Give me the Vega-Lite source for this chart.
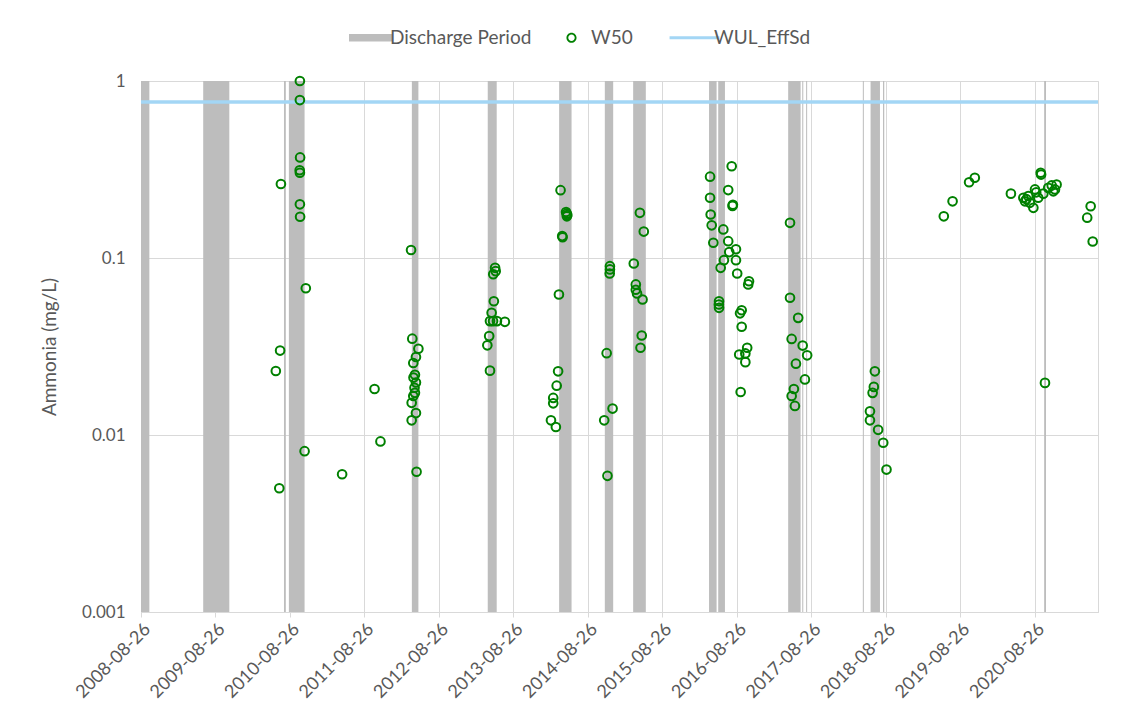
{
  "$schema": "https://vega.github.io/schema/vega-lite/v6.json",
  "width": 957,
  "height": 531,
  "autosize": "none",
  "padding": {"left": 141, "top": 81, "right": 35, "bottom": 107},
  "background": "white",
  "config": {
    "font": "Lato",
    "view": {"stroke": "#d9d9d9"},
    "axis": {
      "labelColor": "#595959",
      "titleColor": "#595959",
      "gridColor": "#d9d9d9",
      "domainColor": "#d9d9d9",
      "tickColor": "#d9d9d9",
      "labelFontSize": 17,
      "titleFontSize": 19,
      "titleFontWeight": "normal",
      "labelFont": "Lato",
      "titleFont": "Lato"
    }
  },
  "datasets": {
    "bands": [
      {"start": "2008-08-26", "end": "2008-10-06"},
      {"start": "2009-06-27", "end": "2009-11-02"},
      {"start": "2010-07-28", "end": "2010-08-06"},
      {"start": "2010-08-21", "end": "2010-11-06"},
      {"start": "2012-04-15", "end": "2012-05-17"},
      {"start": "2013-04-22", "end": "2013-06-05"},
      {"start": "2014-04-07", "end": "2014-06-07"},
      {"start": "2014-11-17", "end": "2014-12-28"},
      {"start": "2015-04-05", "end": "2015-06-06"},
      {"start": "2016-04-11", "end": "2016-05-18"},
      {"start": "2016-05-26", "end": "2016-06-28"},
      {"start": "2017-05-04", "end": "2017-07-04"},
      {"start": "2017-07-12", "end": "2017-07-17"},
      {"start": "2017-07-31", "end": "2017-08-05"},
      {"start": "2018-05-05", "end": "2018-05-10"},
      {"start": "2018-06-12", "end": "2018-07-28"},
      {"start": "2018-08-12", "end": "2018-08-18"},
      {"start": "2020-10-10", "end": "2020-10-19"}
    ],
    "limit": [{"value": 0.76}],
    "w50": [
      {"date": "2010-06-18", "value": 0.023},
      {"date": "2010-07-05", "value": 0.005},
      {"date": "2010-07-09", "value": 0.030},
      {"date": "2010-07-13", "value": 0.262},
      {"date": "2010-10-14", "value": 1.0},
      {"date": "2010-10-14", "value": 0.78},
      {"date": "2010-10-15", "value": 0.37},
      {"date": "2010-10-13", "value": 0.313},
      {"date": "2010-10-14", "value": 0.303},
      {"date": "2010-10-14", "value": 0.201},
      {"date": "2010-10-15", "value": 0.171},
      {"date": "2010-11-06", "value": 0.0081},
      {"date": "2010-11-12", "value": 0.0675},
      {"date": "2011-05-09", "value": 0.0060},
      {"date": "2011-10-15", "value": 0.0182},
      {"date": "2011-11-13", "value": 0.0092},
      {"date": "2012-04-11", "value": 0.111},
      {"date": "2012-04-17", "value": 0.035},
      {"date": "2012-05-17", "value": 0.0307},
      {"date": "2012-05-05", "value": 0.0276},
      {"date": "2012-04-22", "value": 0.0255},
      {"date": "2012-04-30", "value": 0.0219},
      {"date": "2012-04-23", "value": 0.0211},
      {"date": "2012-05-05", "value": 0.0198},
      {"date": "2012-04-28", "value": 0.0185},
      {"date": "2012-04-30", "value": 0.0173},
      {"date": "2012-04-22", "value": 0.0166},
      {"date": "2012-04-14", "value": 0.0152},
      {"date": "2012-05-05", "value": 0.0133},
      {"date": "2012-04-14", "value": 0.0121},
      {"date": "2012-05-08", "value": 0.0062},
      {"date": "2013-05-28", "value": 0.088},
      {"date": "2013-05-31", "value": 0.0843},
      {"date": "2013-05-19", "value": 0.0809},
      {"date": "2013-05-22", "value": 0.057},
      {"date": "2013-05-11", "value": 0.049},
      {"date": "2013-05-03", "value": 0.044},
      {"date": "2013-05-18", "value": 0.044},
      {"date": "2013-06-06", "value": 0.044},
      {"date": "2013-07-15", "value": 0.0436},
      {"date": "2013-04-29", "value": 0.0362},
      {"date": "2013-04-20", "value": 0.0321},
      {"date": "2013-05-03", "value": 0.0231},
      {"date": "2014-04-14", "value": 0.2416},
      {"date": "2014-05-11", "value": 0.182},
      {"date": "2014-05-14", "value": 0.178},
      {"date": "2014-05-17", "value": 0.175},
      {"date": "2014-05-15", "value": 0.172},
      {"date": "2014-04-24", "value": 0.131},
      {"date": "2014-04-22", "value": 0.133},
      {"date": "2014-04-06", "value": 0.0622},
      {"date": "2014-04-02", "value": 0.0229},
      {"date": "2014-03-26", "value": 0.019},
      {"date": "2014-03-09", "value": 0.0162},
      {"date": "2014-03-09", "value": 0.0151},
      {"date": "2014-02-26", "value": 0.0121},
      {"date": "2014-03-22", "value": 0.0111},
      {"date": "2014-12-12", "value": 0.0899},
      {"date": "2014-12-12", "value": 0.0862},
      {"date": "2014-12-11", "value": 0.0817},
      {"date": "2014-11-26", "value": 0.029},
      {"date": "2014-12-25", "value": 0.0141},
      {"date": "2014-11-14", "value": 0.0121},
      {"date": "2014-11-30", "value": 0.00588},
      {"date": "2015-04-08", "value": 0.0931},
      {"date": "2015-05-08", "value": 0.180},
      {"date": "2015-05-27", "value": 0.141},
      {"date": "2015-04-18", "value": 0.0709},
      {"date": "2015-04-18", "value": 0.0662},
      {"date": "2015-04-24", "value": 0.0631},
      {"date": "2015-05-21", "value": 0.0583},
      {"date": "2015-05-17", "value": 0.0365},
      {"date": "2015-05-11", "value": 0.0311},
      {"date": "2016-07-31", "value": 0.330},
      {"date": "2016-04-16", "value": 0.288},
      {"date": "2016-07-14", "value": 0.242},
      {"date": "2016-08-06", "value": 0.200},
      {"date": "2016-08-04", "value": 0.197},
      {"date": "2016-04-16", "value": 0.219},
      {"date": "2016-04-19", "value": 0.176},
      {"date": "2016-04-24", "value": 0.153},
      {"date": "2016-06-20", "value": 0.145},
      {"date": "2016-05-02", "value": 0.122},
      {"date": "2016-07-14", "value": 0.1245},
      {"date": "2016-08-21", "value": 0.112},
      {"date": "2016-07-19", "value": 0.108},
      {"date": "2016-06-23", "value": 0.0972},
      {"date": "2016-08-21", "value": 0.0972},
      {"date": "2016-06-07", "value": 0.088},
      {"date": "2016-08-27", "value": 0.0817},
      {"date": "2016-10-24", "value": 0.0739},
      {"date": "2016-10-20", "value": 0.0709},
      {"date": "2016-05-30", "value": 0.057},
      {"date": "2016-05-29", "value": 0.0546},
      {"date": "2016-05-30", "value": 0.0523},
      {"date": "2016-09-18", "value": 0.0507},
      {"date": "2016-09-10", "value": 0.0487},
      {"date": "2016-09-18", "value": 0.0409},
      {"date": "2016-10-15", "value": 0.0311},
      {"date": "2016-09-06", "value": 0.0285},
      {"date": "2016-10-06", "value": 0.0289},
      {"date": "2016-10-06", "value": 0.0258},
      {"date": "2016-09-13", "value": 0.0175},
      {"date": "2017-05-13", "value": 0.158},
      {"date": "2017-05-13", "value": 0.0596},
      {"date": "2017-06-22", "value": 0.0459},
      {"date": "2017-05-21", "value": 0.0349},
      {"date": "2017-07-14", "value": 0.032},
      {"date": "2017-08-05", "value": 0.0282},
      {"date": "2017-06-11", "value": 0.0253},
      {"date": "2017-07-25", "value": 0.0206},
      {"date": "2017-06-01", "value": 0.0182},
      {"date": "2017-05-21", "value": 0.0166},
      {"date": "2017-06-06", "value": 0.0146},
      {"date": "2018-07-03", "value": 0.0229},
      {"date": "2018-06-28", "value": 0.0187},
      {"date": "2018-06-22", "value": 0.0173},
      {"date": "2018-06-09", "value": 0.0136},
      {"date": "2018-06-09", "value": 0.0121},
      {"date": "2018-07-19", "value": 0.0107},
      {"date": "2018-08-13", "value": 0.00904},
      {"date": "2018-08-29", "value": 0.00638},
      {"date": "2019-06-06", "value": 0.172},
      {"date": "2019-07-19", "value": 0.209},
      {"date": "2019-10-08", "value": 0.268},
      {"date": "2019-11-05", "value": 0.284},
      {"date": "2020-04-30", "value": 0.231},
      {"date": "2020-06-30", "value": 0.219},
      {"date": "2020-07-08", "value": 0.209},
      {"date": "2020-07-15", "value": 0.215},
      {"date": "2020-07-24", "value": 0.224},
      {"date": "2020-08-01", "value": 0.205},
      {"date": "2020-08-18", "value": 0.192},
      {"date": "2020-08-26", "value": 0.244},
      {"date": "2020-09-01", "value": 0.235},
      {"date": "2020-09-11", "value": 0.219},
      {"date": "2020-09-23", "value": 0.303},
      {"date": "2020-09-25", "value": 0.296},
      {"date": "2020-10-06", "value": 0.231},
      {"date": "2020-10-14", "value": 0.0197},
      {"date": "2020-10-30", "value": 0.249},
      {"date": "2020-11-16", "value": 0.257},
      {"date": "2020-11-24", "value": 0.238},
      {"date": "2020-12-02", "value": 0.244},
      {"date": "2020-12-10", "value": 0.26},
      {"date": "2021-05-09", "value": 0.169},
      {"date": "2021-05-26", "value": 0.196},
      {"date": "2021-06-05", "value": 0.124}
    ]
  },
  "layer": [
    {
      "data": {"name": "bands"},
      "mark": {"type": "rect"},
      "encoding": {
        "x": {
          "field": "start",
          "type": "temporal",
          "scale": {
            "type": "utc",
            "domain": [
              {"year": 2008, "month": 8, "date": 26, "utc": true},
              {"year": 2021, "month": 7, "date": 1, "utc": true}
            ]
          },
          "axis": {
            "title": null,
            "format": "%Y-%m-%d",
            "labelAngle": -45,
            "labelOverlap": false,
            "labelFontSize": 18,
            "grid": true,
            "tickSize": 5,
            "labelPadding": 3,
            "values": [
              {"year": 2008, "month": 8, "date": 26, "utc": true},
              {"year": 2009, "month": 8, "date": 26, "utc": true},
              {"year": 2010, "month": 8, "date": 26, "utc": true},
              {"year": 2011, "month": 8, "date": 26, "utc": true},
              {"year": 2012, "month": 8, "date": 26, "utc": true},
              {"year": 2013, "month": 8, "date": 26, "utc": true},
              {"year": 2014, "month": 8, "date": 26, "utc": true},
              {"year": 2015, "month": 8, "date": 26, "utc": true},
              {"year": 2016, "month": 8, "date": 26, "utc": true},
              {"year": 2017, "month": 8, "date": 26, "utc": true},
              {"year": 2018, "month": 8, "date": 26, "utc": true},
              {"year": 2019, "month": 8, "date": 26, "utc": true},
              {"year": 2020, "month": 8, "date": 26, "utc": true}
            ]
          }
        },
        "x2": {"field": "end"},
        "color": {
          "datum": "Discharge Period",
          "scale": {
            "domain": ["Discharge Period", "W50", "WUL_EffSd"],
            "range": ["#bdbdbd", "#008000", "#a3d6f5"]
          },
          "legend": {
            "orient": "none",
            "legendX": 220,
            "legendY": -53,
            "direction": "horizontal",
            "title": null,
            "symbolSize": 1849,
            "labelFontSize": 19,
            "labelColor": "#595959",
            "labelFont": "Lato",
            "labelOffset": 10,
            "columnPadding": 30,
            "encode": {
              "symbols": {
                "update": {
                  "shape": {"signal": "datum.value === 'W50' ? 'M-0.235,0A0.235,0.235 0 1,0 0.235,0A0.235,0.235 0 1,0 -0.235,0ZM-0.15,0A0.15,0.15 0 1,1 0.15,0A0.15,0.15 0 1,1 -0.15,0Z' : datum.value === 'WUL_EffSd' ? 'M-1.16,0H1.16' : 'M-1,-0.17H1V0.17H-1Z'"},
                  "size": {"value": 1849},
                  "fill": {"signal": "datum.value === 'Discharge Period' ? '#bdbdbd' : datum.value === 'W50' ? '#008000' : 'transparent'"},
                  "stroke": {"signal": "datum.value === 'WUL_EffSd' ? '#a3d6f5' : 'transparent'"},
                  "strokeWidth": {"signal": "datum.value === 'WUL_EffSd' ? 3 : 0"},
                  "opacity": {"value": 1}
                }
              }
            }
          }
        }
      }
    },
    {
      "data": {"name": "limit"},
      "mark": {"type": "rule", "strokeWidth": 3.5},
      "encoding": {
        "y": {
          "field": "value",
          "type": "quantitative",
          "scale": {"type": "log", "domain": [0.001, 1], "nice": false},
          "axis": {
            "title": "Ammonia (mg/L)",
            "values": [0.001, 0.01, 0.1, 1],
            "format": "~g",
            "grid": true,
            "domain": false,
            "ticks": false,
            "labelPadding": 16,
            "titlePadding": 22
          }
        },
        "color": {"datum": "WUL_EffSd"}
      }
    },
    {
      "data": {"name": "w50"},
      "mark": {"type": "point", "filled": false, "size": 75, "strokeWidth": 2, "opacity": 1},
      "encoding": {
        "x": {"field": "date", "type": "temporal"},
        "y": {"field": "value", "type": "quantitative"},
        "color": {"datum": "W50"}
      }
    }
  ]
}
